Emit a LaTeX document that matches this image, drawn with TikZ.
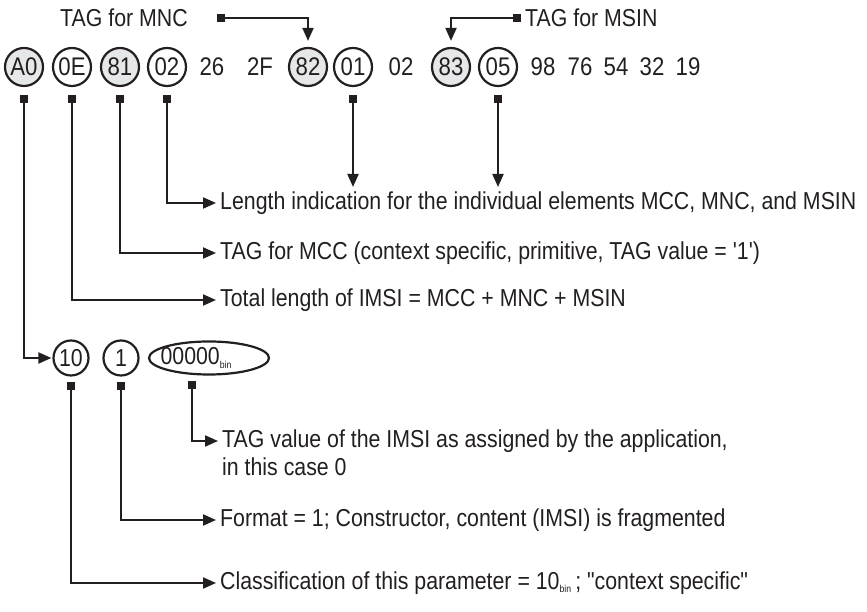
\documentclass[tikz,border=0pt]{standalone}
\usepackage{fontspec}
\setmainfont{Liberation Sans}[FakeStretch=0.87,Ligatures=TeXOff]
\usetikzlibrary{arrows.meta,shapes.geometric,calc}
\definecolor{bubgray}{HTML}{E6E7E8}
\definecolor{ink}{HTML}{231F20}
\newcommand{\binsub}{\raisebox{-3.5pt}{\fontsize{10}{10}\selectfont bin}}
\begin{document}
\begin{tikzpicture}[x=1pt,y=1pt,color=ink,
  lbl/.style={anchor=west,inner sep=0pt,font=\fontsize{24.5}{28}\selectfont},
  num/.style={inner sep=0pt,font=\fontsize{25.5}{28}\selectfont},
  bub/.style={circle,draw,line width=2.2pt,minimum size=38pt,inner sep=0pt,font=\fontsize{25.5}{28}\selectfont},
  gbub/.style={bub,fill=bubgray},
  sbub/.style={bub,minimum size=35pt,font=\fontsize{24.5}{28}\selectfont},
  con/.style={line width=2pt,{Square[length=8pt,width=8pt]}-{Triangle[length=13pt,width=11pt]}},
]
\useasboundingbox (0,0) rectangle (867,612);
% row 1
\node[gbub] (a0)  at (24,545)  {A0};
\node[bub]  (x0e) at (72,545)  {0E};
\node[gbub] (x81) at (120,545) {81};
\node[bub]  (x02) at (167,545) {02};
\node[num]  (x26) at (212,545) {26};
\node[num]  (x2f) at (260,545) {2F};
\node[gbub] (x82) at (308,545) {82};
\node[bub]  (x01) at (353,545) {01};
\node[num]  (y02) at (401,545) {02};
\node[gbub] (x83) at (451,545) {83};
\node[bub]  (x05) at (498,545) {05};
\node[num]  (x98) at (543,545) {98};
\node[num]  (x76) at (580,545) {76};
\node[num]  (x54) at (616,545) {54};
\node[num]  (x32) at (652,545) {32};
\node[num]  (x19) at (688,545) {19};
% top labels
\node[lbl] (tmnc)  at (60,594)  {TAG for MNC};
\node[lbl] (tmsin) at (525,594) {TAG for MSIN};
\coordinate (smnc)  at (217,594);
\coordinate (smsin) at (521,594);
\draw[con] (smnc) -| ([yshift=6pt]x82.north);
\draw[con] (smsin) -| ([yshift=6pt]x83.north);
% down arrows
\coordinate (e01) at (353,425);
\coordinate (e05) at (498,425);
\draw[con] ([yshift=-8pt]x01.south) -- (e01);
\draw[con] ([yshift=-8pt]x05.south) -- (e05);
% right labels
\node[lbl] (len) at (220,409) {Length indication for the individual elements MCC, MNC, and MSIN};
\node[lbl] (mcc) at (220,359) {TAG for MCC (context specific, primitive, TAG value = '1')};
\node[lbl] (tot) at (220,312) {Total length of IMSI = MCC + MNC + MSIN};
\draw[con,shorten >=4pt] ([yshift=-8pt]x02.south) |- (len.west);
\draw[con,shorten >=4pt] ([yshift=-8pt]x81.south) |- (mcc.west);
\draw[con,shorten >=4pt] ([yshift=-8pt]x0e.south) |- (tot.west);
% row 2
\node[sbub] (c10) at (71,254)  {10};
\node[sbub] (c1)  at (121,254) {1};
\node[ellipse,draw,line width=2.2pt,minimum width=120pt,minimum height=33pt,inner sep=0pt] (ell) at (209,254) {};
\node[inner sep=0pt,font=\fontsize{24.5}{28}\selectfont] (elltxt) at (196,254) {00000\binsub};
\draw[con,shorten >=1pt] ([yshift=-8pt]a0.south) |- (c10.west);
% lower labels
\node[lbl] (tv1) at (222,171) {TAG value of the IMSI as assigned by the application,};
\node[lbl] (tv2) at (222,145) {in this case 0};
\node[lbl] (fmt) at (220,92)  {Format = 1; Constructor, content (IMSI) is fragmented};
\node[lbl] (cls) at (220,29)  {Classification of this parameter = 10\binsub\,; "context specific"};
\draw[con,shorten >=4pt] ([xshift=-17pt,yshift=-5pt]ell.south) |- (tv1.west);
\draw[con,shorten >=4pt] ([yshift=-5pt]c1.south) |- (fmt.west);
\draw[con,shorten >=4pt] ([yshift=-5pt]c10.south) |- (cls.west);
\end{tikzpicture}
\end{document}
